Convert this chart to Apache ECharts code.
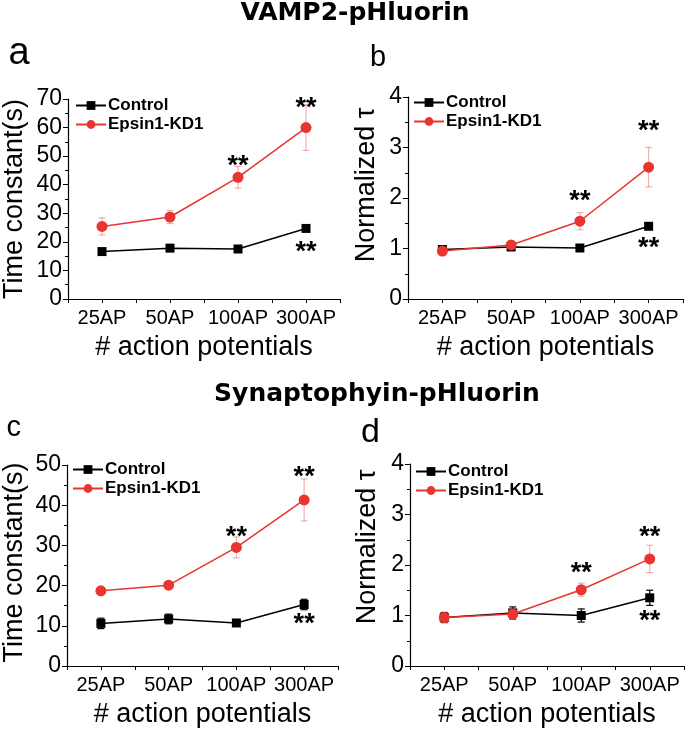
<!DOCTYPE html>
<html><head><meta charset="utf-8">
<script src="https://cdn.jsdelivr.net/npm/echarts@6/dist/echarts.min.js"></script>
<style>html,body{margin:0;padding:0;background:#fff}#c{width:685px;height:729px}</style>
</head><body><div id="c"></div>
<script>
const categories = ['25AP', '50AP', '100AP', '300AP'];
const seriesNames = ['Control', 'Epsin1-KD1'];

// panel a: VAMP2 time constant (s)
const aControl = [16.6, 17.8, 17.5, 24.7];
const aControlErr = [0.7, 0.7, 0.7, 0.9];
const aEpsin = [25.4, 28.7, 42.6, 60.0];
const aEpsinErr = [3.0, 2.3, 3.8, 8.0];
const aStars = [[2, 48.3], [3, 68.9], [3, 18.3]];

// panel b: VAMP2 normalized tau
const bControl = [0.98, 1.03, 1.01, 1.44];
const bControlErr = [0.04, 0.04, 0.04, 0.05];
const bEpsin = [0.95, 1.07, 1.54, 2.61];
const bEpsinErr = [0.09, 0.05, 0.17, 0.39];
const bStars = [[2, 2.04], [3, 3.44], [3, 1.11]];

// panel c: Synaptophysin time constant (s)
const cControl = [10.6, 11.7, 10.7, 15.3];
const cControlErr = [1.3, 1.2, 0.7, 1.3];
const cEpsin = [18.7, 20.1, 29.5, 41.3];
const cEpsinErr = [0.6, 0.6, 2.6, 5.2];
const cStars = [[2, 33.5], [3, 48.4], [3, 11.7]];

// panel d: Synaptophysin normalized tau
const dControl = [0.96, 1.05, 1.00, 1.35];
const dControlErr = [0.1, 0.12, 0.13, 0.15];
const dEpsin = [0.96, 1.03, 1.51, 2.12];
const dEpsinErr = [0.1, 0.1, 0.13, 0.27];
const dStars = [[2, 1.95], [3, 2.67], [3, 0.99]];

const RED = '#e8352f';
const PINK = 'rgba(232,80,80,0.45)';
const FONT = '"Liberation Sans", Arial, sans-serif';

function errRender(color, lw) {
  return function (params, api) {
    const x = api.value(0), y = api.value(1), e = api.value(2);
    const hi = api.coord([x, y + e]);
    const lo = api.coord([x, y - e]);
    const w = 3.5;
    const st = { stroke: color, lineWidth: lw };
    return {
      type: 'group', children: [
        { type: 'line', shape: { x1: hi[0], y1: hi[1], x2: lo[0], y2: lo[1] }, style: st },
        { type: 'line', shape: { x1: hi[0] - w, y1: hi[1], x2: hi[0] + w, y2: hi[1] }, style: st },
        { type: 'line', shape: { x1: lo[0] - w, y1: lo[1], x2: lo[0] + w, y2: lo[1] }, style: st }
      ]
    };
  };
}

function starRender(params, api) {
  const p = api.coord([api.value(0), api.value(1)]);
  return {
    type: 'text', x: p[0], y: p[1] + 6,
    style: { text: '**', font: 'bold 27px ' + FONT, fill: '#000', align: 'center', verticalAlign: 'middle' }
  };
}

const panels = [
  { grid: { left: 65, top: 99, width: 275, height: 200 }, yMax: 70, yInt: 10, yName: 'Time constant(s)', nameGap: 40, namePad: [0, 0, 0, 0],
    ctrl: aControl, ctrlErr: aControlErr, eps: aEpsin, epsErr: aEpsinErr, stars: aStars, legend: { left: 75, top: 97 } },
  { grid: { left: 408, top: 97, width: 275, height: 202 }, yMax: 4, yInt: 1, yName: 'Normalized \u03c4', nameGap: 28, namePad: [0, 0, 0, 26],
    ctrl: bControl, ctrlErr: bControlErr, eps: bEpsin, epsErr: bEpsinErr, stars: bStars, legend: { left: 413, top: 94 } },
  { grid: { left: 63, top: 465, width: 275, height: 201 }, yMax: 50, yInt: 10, yName: 'Time constant(s)', nameGap: 39, namePad: [0, 0, 0, 6],
    ctrl: cControl, ctrlErr: cControlErr, eps: cEpsin, epsErr: cEpsinErr, stars: cStars, legend: { left: 72, top: 461 } },
  { grid: { left: 410, top: 464, width: 274, height: 202 }, yMax: 4, yInt: 1, yName: 'Normalized \u03c4', nameGap: 29, namePad: [0, 0, 0, 36],
    ctrl: dControl, ctrlErr: dControlErr, eps: dEpsin, epsErr: dEpsinErr, stars: dStars, legend: { left: 415, top: 463 } }
];

const option = {
  animation: false,
  backgroundColor: '#fff',
  textStyle: { fontFamily: FONT, color: '#000' },
  grid: [], xAxis: [], yAxis: [], series: [], legend: [],
  graphic: [
    { type: 'text', x: 355, y: 13.5, style: { text: 'VAMP2-pHluorin', font: 'bold 25px "DejaVu Sans", sans-serif', fill: '#000', align: 'center', verticalAlign: 'middle' } },
    { type: 'text', x: 377, y: 394, style: { text: 'Synaptophyin-pHluorin', font: 'bold 25px "DejaVu Sans", sans-serif', fill: '#000', align: 'center', verticalAlign: 'middle' } },
    { type: 'text', x: 8.5, y: 54, style: { text: 'a', font: '38px ' + FONT, fill: '#000', verticalAlign: 'middle' } },
    { type: 'text', x: 370, y: 58, style: { text: 'b', font: '29px ' + FONT, fill: '#000', verticalAlign: 'middle' } },
    { type: 'text', x: 6.5, y: 428, style: { text: 'c', font: '29px ' + FONT, fill: '#000', verticalAlign: 'middle' } },
    { type: 'text', x: 361, y: 433, style: { text: 'd', font: '34px ' + FONT, fill: '#000', verticalAlign: 'middle' } }
  ]
};

panels.forEach((p, gi) => {
  option.grid.push(p.grid);
  const axisLine = { show: true, lineStyle: { color: '#000', width: 1.2 } };
  option.xAxis.push({
    type: 'category', gridIndex: gi, data: categories, boundaryGap: true,
    axisLine: axisLine,
    axisTick: { show: true, inside: false, length: 4, lineStyle: { color: '#000', width: 1 } },
    axisLabel: { fontSize: 20, color: '#000', margin: 9, fontFamily: FONT, interval: 0 },
    splitLine: { show: false },
    name: '# action potentials', nameLocation: 'middle', nameGap: 35,
    nameTextStyle: { fontSize: 27, color: '#000', fontFamily: FONT }
  });
  option.xAxis.push({
    type: 'category', gridIndex: gi, data: categories, boundaryGap: true, position: 'bottom',
    axisLine: { show: false },
    axisTick: { show: true, alignWithLabel: true, length: 4, lineStyle: { color: '#000', width: 1 } },
    axisLabel: { show: false }, splitLine: { show: false }
  });
  option.yAxis.push({
    type: 'value', gridIndex: gi, min: 0, max: p.yMax, interval: p.yInt,
    axisLine: axisLine,
    axisTick: { show: true, length: 5, lineStyle: { color: '#000', width: 1 } },
    minorTick: { show: true, splitNumber: 2, length: 3, lineStyle: { color: '#000', width: 1 } },
    axisLabel: { fontSize: 23, color: '#000', margin: 6, fontFamily: FONT },
    splitLine: { show: false },
    name: p.yName, nameLocation: 'middle', nameGap: p.nameGap, nameRotate: 90,
    nameTextStyle: { fontSize: 27, color: '#000', fontFamily: FONT, padding: p.namePad }
  });
  const xi = gi * 2;
  option.series.push({
    type: 'custom', xAxisIndex: xi, yAxisIndex: gi, z: 2, silent: true,
    renderItem: errRender('#000', 1.2),
    data: p.ctrl.map((v, i) => [i, v, p.ctrlErr[i]])
  });
  option.series.push({
    type: 'custom', xAxisIndex: xi, yAxisIndex: gi, z: 2, silent: true,
    renderItem: errRender(PINK, 1.2),
    data: p.eps.map((v, i) => [i, v, p.epsErr[i]])
  });
  option.series.push({
    name: seriesNames[0], type: 'line', xAxisIndex: xi, yAxisIndex: gi, z: 3,
    data: p.ctrl, symbol: 'rect', symbolSize: 9,
    itemStyle: { color: '#000' }, lineStyle: { color: '#000', width: 1.5 }
  });
  option.series.push({
    name: seriesNames[1], type: 'line', xAxisIndex: xi, yAxisIndex: gi, z: 4,
    data: p.eps, symbol: 'circle', symbolSize: 11,
    itemStyle: { color: RED }, lineStyle: { color: RED, width: 1.5 }
  });
  option.series.push({
    type: 'custom', xAxisIndex: xi, yAxisIndex: gi, z: 5, silent: true,
    renderItem: starRender,
    data: p.stars
  });
  option.legend.push({
    data: seriesNames, orient: 'vertical', left: p.legend.left, top: p.legend.top,
    itemWidth: 30, itemHeight: 11, itemGap: 2, padding: 0, selectedMode: false,
    textStyle: { fontSize: 17, fontWeight: 'bold', color: '#000', fontFamily: FONT, padding: [0, 0, 0, -3] }
  });
});

const chart = echarts.init(document.getElementById('c'), null, { renderer: 'canvas' });
chart.setOption(option);
</script>
</body></html>
